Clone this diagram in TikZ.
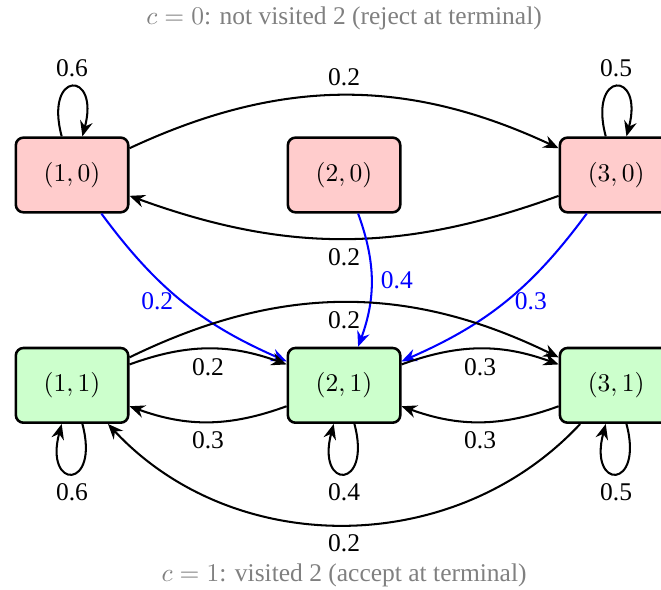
\documentclass[tikz,border=0pt]{standalone}
\usepackage[no-math]{fontspec}
\setmainfont{Liberation Serif}
\usetikzlibrary{positioning,arrows.meta}

\begin{document}
\begin{tikzpicture}[
            node distance=2.9cm and 3.75cm, on grid,
            >={Stealth[length=6pt,width=5pt,inset=2pt]},
            state/.style={rectangle,rounded corners=3pt,draw,line width=1pt,minimum width=1.55cm,minimum height=1.03cm},
            rej/.style={state,fill=red!20},
            acc/.style={state,fill=green!20},
            trans/.style={->,thick},
            jump/.style={->,thick,blue},
            caption/.style={text=gray}
        ]
        \useasboundingbox (0,0) rectangle (9.112,-8.133);

        % c = 0 layer
        \node[rej] (s10) at (0.993,-2.412) {$(1,0)$};
        \node[rej] (s20) [right=of s10] {$(2,0)$};
        \node[rej] (s30) [right=of s20] {$(3,0)$};
        % c = 1 layer
        \node[acc] (s11) [below=of s10] {$(1,1)$};
        \node[acc] (s21) [below=of s20] {$(2,1)$};
        \node[acc] (s31) [below=of s30] {$(3,1)$};

        \node[caption] (top) [above=2.16cm of s20] {$c=0$: not visited 2 (reject at terminal)};
        \node[caption] (bot) [below=2.62cm of s21] {$c=1$: visited 2 (accept at terminal)};

        \draw[trans] (s10) to[out=105,in=75,looseness=8.5] node[above] {0.6} (s10);
        \draw[trans] (s30) to[out=105,in=75,looseness=8.5] node[above] {0.5} (s30);
        \draw[trans] (s10) to[bend left=25] node[above] {0.2} (s30);
        \draw[trans] (s30) to[bend left=20] node[below] {0.2} (s10);

        % moving onto 2 flips c
        \draw[jump] (s10) to[bend right=15] node[left] {0.2} (s21);
        \draw[jump] (s20) to[bend left=20] node[right] {0.4} (s21);
        \draw[jump] (s30) to[bend left=15] node[right] {0.3} (s21);

        \draw[trans] (s11) to[bend left=20] node[below] {0.2} (s21);
        \draw[trans] (s21) to[bend left=20] node[below] {0.3} (s11);
        \draw[trans] (s21) to[bend left=20] node[below] {0.3} (s31);
        \draw[trans] (s31) to[bend left=20] node[below] {0.3} (s21);
        \draw[trans] (s11) to[bend left=26] node[below] {0.2} (s31);
        \draw[trans] (s31) to[bend left=47] node[below] {0.2} (s11);
        \draw[trans] (s11) to[out=285,in=255,looseness=8.5] node[below] {0.6} (s11);
        \draw[trans] (s21) to[out=285,in=255,looseness=8.5] node[below] {0.4} (s21);
        \draw[trans] (s31) to[out=285,in=255,looseness=8.5] node[below] {0.5} (s31);
    \end{tikzpicture}
\end{document}
